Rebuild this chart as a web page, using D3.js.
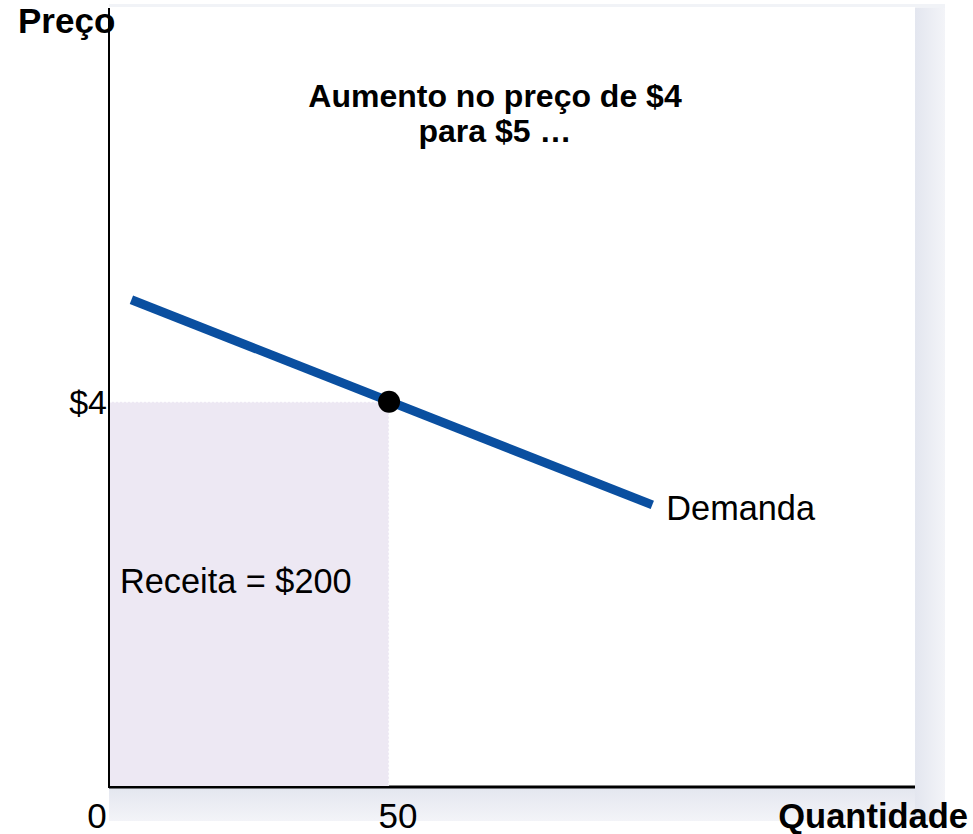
<!DOCTYPE html>
<meta charset="utf-8">
<title>Demanda</title>
<style>
body { margin: 0; background: #fff; font-family: "Liberation Sans", Arial, sans-serif; }
</style>
<body></body>
<script src="https://cdn.jsdelivr.net/npm/d3@7"></script>
<script>

// data
var demandQ = [4, 97];
var demandP = [5.06, 2.93];
var pointQ = [50];
var pointP = [4];
var xTicks = [0, 50];
var yTicks = ["$4"];
var yTickVals = [4];
var revenueLabel = "Receita = $200";
var titleLines = ["Aumento no preço de $4", "para $5 …"];

var width = 973, height = 834;
var mLeft = 109, mRight = 915, mTop = 8, mBottom = 787;

var svg = d3.select("body").append("svg")
    .attr("width", width)
    .attr("height", height);

var x = d3.scaleLinear().domain([0, 143.9]).range([mLeft, mRight]);
var y = d3.scaleLinear().domain([0, 8.09]).range([mBottom, mTop]);

// shadow behind the panel
var defs = svg.append("defs");
var gr = defs.append("linearGradient").attr("id", "shR");
gr.append("stop").attr("offset", "0%").attr("stop-color", "#e3e6ef");
gr.append("stop").attr("offset", "100%").attr("stop-color", "#f3f4f8");
var gb = defs.append("linearGradient").attr("id", "shB").attr("x2", 0).attr("y2", 1);
gb.append("stop").attr("offset", "0%").attr("stop-color", "#e3e6ef");
gb.append("stop").attr("offset", "100%").attr("stop-color", "#f3f4f8");

svg.append("rect").attr("x", mLeft).attr("y", 4).attr("width", 836).attr("height", 4)
    .attr("fill", "#f1f3f7");
svg.append("rect").attr("x", mRight).attr("y", 8).attr("width", 30).attr("height", 813)
    .attr("fill", "url(#shR)");
svg.append("rect").attr("x", mLeft).attr("y", mBottom).attr("width", 836 - 30).attr("height", 34)
    .attr("fill", "url(#shB)");
svg.append("rect").attr("x", mLeft).attr("y", mTop - 1).attr("width", mRight - mLeft).attr("height", mBottom - mTop + 1)
    .attr("fill", "#fff");

// axes
svg.append("line").attr("x1", mLeft).attr("x2", mRight).attr("y1", mBottom).attr("y2", mBottom)
    .attr("stroke", "#000").attr("stroke-width", 3);
svg.append("line").attr("x1", mLeft).attr("x2", mLeft).attr("y1", mTop).attr("y2", mBottom + 1)
    .attr("stroke", "#000").attr("stroke-width", 2);

// revenue area
svg.append("rect")
    .attr("x", x(0) + 1)
    .attr("y", y(pointP[0]))
    .attr("width", x(pointQ[0]) - x(0) - 1)
    .attr("height", y(0) - y(pointP[0]) - 1)
    .attr("fill", "#ede8f3");
svg.append("path")
    .attr("d", "M" + (x(0) + 1) + "," + y(pointP[0]) + "H" + x(pointQ[0]) + "V" + (y(0) - 1))
    .attr("fill", "none")
    .attr("stroke", "#fff")
    .attr("stroke-width", 1.5)
    .attr("stroke-dasharray", "2,2");

// demand curve
var line = d3.line().x(function(d) { return x(d[0]); }).y(function(d) { return y(d[1]); });
svg.append("path")
    .datum(d3.zip(demandQ, demandP))
    .attr("d", line)
    .attr("fill", "none")
    .attr("stroke", "#0a4fa0")
    .attr("stroke-width", 9);

svg.selectAll(".pt").data(d3.zip(pointQ, pointP)).enter().append("circle")
    .attr("cx", function(d) { return x(d[0]); })
    .attr("cy", function(d) { return y(d[1]); })
    .attr("r", 11)
    .attr("fill", "#000");

// labels
svg.selectAll(".xt").data(xTicks).enter().append("text")
    .attr("x", function(d) { return x(d) + (d === 0 ? -12 : 9); })
    .attr("y", 828)
    .attr("text-anchor", "middle")
    .style("font-size", "35px")
    .text(function(d) { return d; });

svg.selectAll(".yt").data(yTickVals).enter().append("text")
    .attr("x", mLeft - 2)
    .attr("y", function(d) { return y(d) + 12; })
    .attr("text-anchor", "end")
    .style("font-size", "34px")
    .text(function(d, i) { return yTicks[i]; });

svg.append("text").attr("x", 18).attr("y", 33)
    .style("font-size", "35px").style("font-weight", "bold")
    .text("Preço");

svg.append("text").attr("x", 968).attr("y", 828)
    .attr("text-anchor", "end")
    .style("font-size", "34.5px").style("font-weight", "bold")
    .text("Quantidade");

svg.selectAll(".tl").data(titleLines).enter().append("text")
    .attr("x", 495)
    .attr("y", function(d, i) { return 107 + i * 35; })
    .attr("text-anchor", "middle")
    .style("font-size", "32px").style("font-weight", "bold")
    .text(function(d) { return d; });

svg.append("text").attr("x", 120).attr("y", 593)
    .style("font-size", "34.3px")
    .text(revenueLabel);

svg.append("text").attr("x", x(demandQ[1]) + 14).attr("y", 520)
    .style("font-size", "34.3px")
    .text("Demanda");

</script>
